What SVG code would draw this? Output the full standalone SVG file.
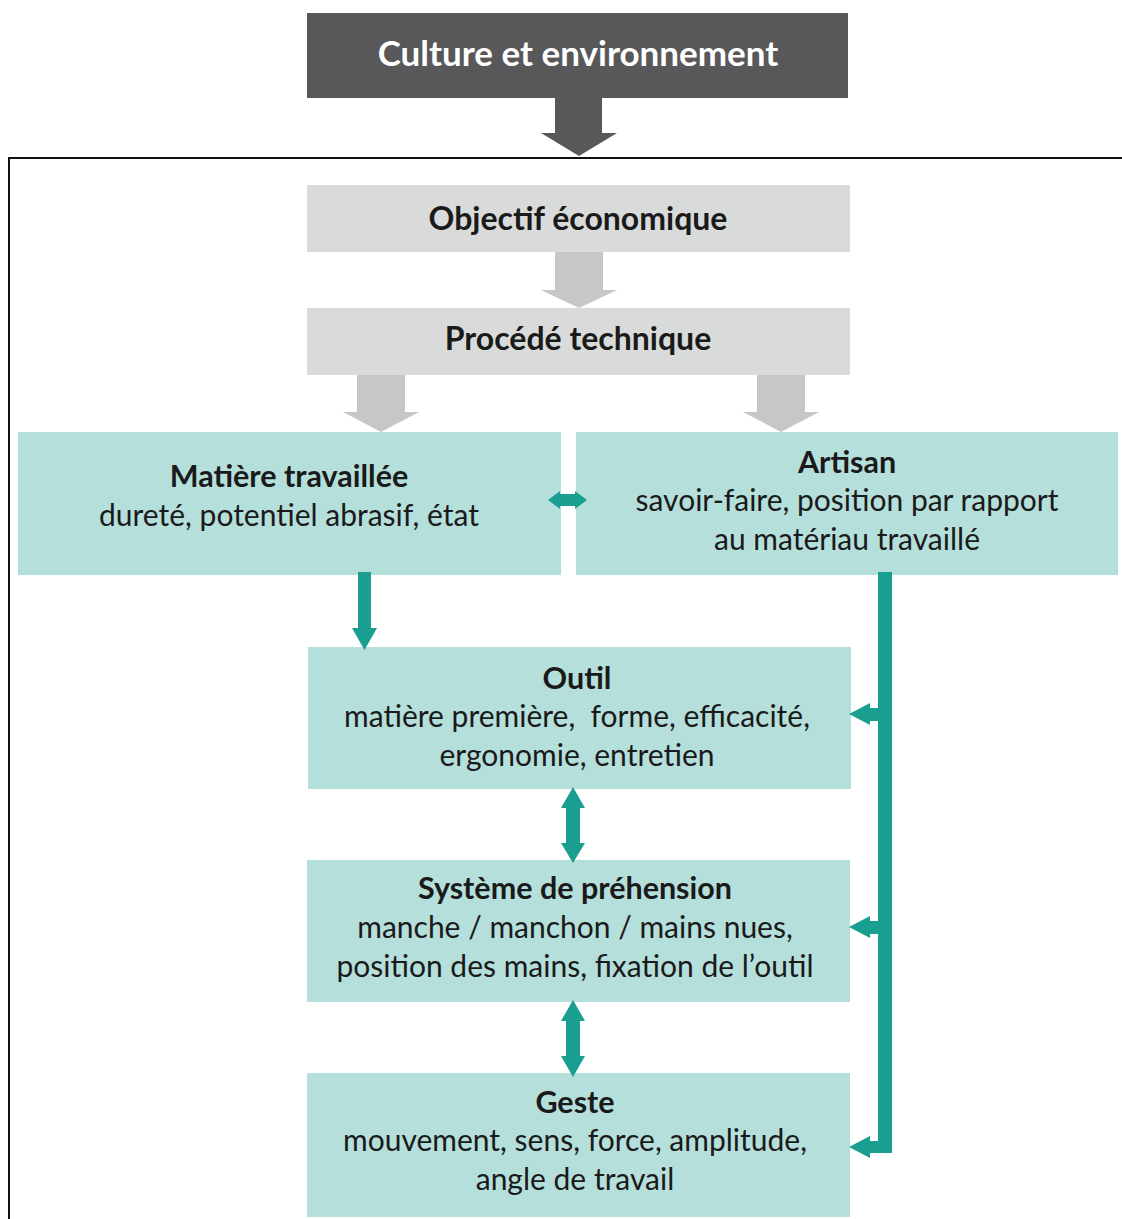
<svg xmlns="http://www.w3.org/2000/svg" width="1122" height="1219" viewBox="0 0 1122 1219">
<style>
.dark{fill:#58585a}
.grey{fill:#d9dbdb}
.garrow{fill:#c6c7c9}
.teal{fill:#b5dfdb}
.tarrow{fill:#1a9e8f}
text{font-family:Lato,"Open Sans","Liberation Sans",sans-serif;text-anchor:middle;fill:#1a1a1a}
.t{font-weight:bold;font-size:30.5px}
.b{font-size:30px}
.big{font-weight:bold;font-size:35px;fill:#ffffff}
.mid{font-weight:bold;font-size:32px}
</style>
<rect width="1122" height="1219" fill="#ffffff"/>
<path d="M1122 158 H9 V1219" fill="none" stroke="#111" stroke-width="2"/>
<g id="culture">
<rect class="dark" x="307" y="13" width="541" height="85"/>
<text class="big" x="578" y="66">Culture et environnement</text>
</g>
<g id="objectif">
<rect class="grey" x="307" y="185" width="543" height="67"/>
<text class="mid" x="578" y="230">Objectif économique</text>
</g>
<g id="procede">
<rect class="grey" x="307" y="308" width="543" height="67"/>
<text class="mid" x="578" y="350">Procédé technique</text>
</g>
<g id="matiere">
<rect class="teal" x="18" y="432" width="543" height="143"/>
<text class="t" x="289" y="487">Matière travaillée</text>
<text class="b" x="289" y="526">dureté, potentiel abrasif, état</text>
</g>
<g id="artisan">
<rect class="teal" x="576" y="432" width="542" height="143"/>
<text class="t" x="847" y="473">Artisan</text>
<text class="b" x="847" y="511">savoir-faire, position par rapport</text>
<text class="b" x="847" y="550">au matériau travaillé</text>
</g>
<g id="outil">
<rect class="teal" x="308" y="647" width="543" height="142"/>
<text class="t" x="577" y="689">Outil</text>
<text class="b" x="577" y="727" xml:space="preserve">matière première,  forme, efficacité,</text>
<text class="b" x="577" y="766">ergonomie, entretien</text>
</g>
<g id="systeme">
<rect class="teal" x="307" y="860" width="543" height="142"/>
<text class="t" x="575" y="899">Système de préhension</text>
<text class="b" x="575" y="938">manche / manchon / mains nues,</text>
<text class="b" x="575" y="977">position des mains, fixation de l’outil</text>
</g>
<g id="geste">
<rect class="teal" x="307" y="1073" width="543" height="144"/>
<text class="t" x="575" y="1113">Geste</text>
<text class="b" x="575" y="1151">mouvement, sens, force, amplitude,</text>
<text class="b" x="575" y="1190">angle de travail</text>
</g>
<g id="connectors">
<polygon class="dark" points="555,98 602,98 602,133 617,133 579,156 541,133 555,133"/>
<polygon class="garrow" points="555,252 603,252 603,290 617,290 579,308 541,290 555,290"/>
<polygon class="garrow" points="357,375 405,375 405,412 419,412 381,432 343,412 357,412"/>
<polygon class="garrow" points="757,375 805,375 805,412 819,412 781,432 743,412 757,412"/>
<polygon class="tarrow" points="548,500 560,491 560,494 575,494 575,491 587,500 575,509 575,506 560,506 560,509"/>
<polygon class="tarrow" points="358,572 371,572 371,628 377,628 364.5,650 352,628 358,628"/>
<polygon class="tarrow" points="566,808 561,808 573,787 585,808 580,808 580,843 585,843 573,863 561,843 566,843"/>
<polygon class="tarrow" points="566,1021 561,1021 573,1000 585,1021 580,1021 580,1056 585,1056 573,1077 561,1056 566,1056"/>
<polygon class="tarrow" points="878,572 892,572 892,1153 870,1153 870,1158 849,1147 870,1136 870,1141 878,1141"/>
<polygon class="tarrow" points="878,708 870,708 870,703 849,714 870,725 870,721 878,721"/>
<polygon class="tarrow" points="878,921 870,921 870,916 849,927 870,938 870,934 878,934"/>
</g>
</svg>
